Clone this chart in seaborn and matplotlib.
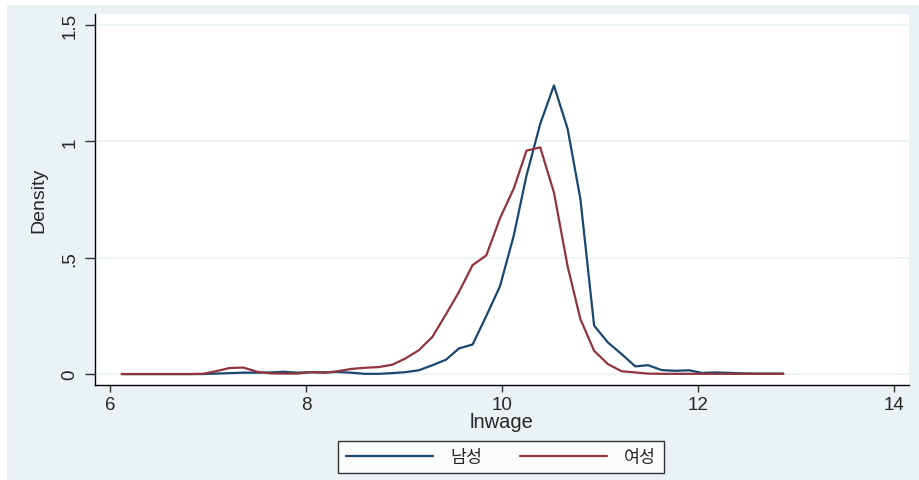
import pandas as pd
import seaborn as sns
import matplotlib.pyplot as plt
from matplotlib.patches import Rectangle

# kdensity evaluation grid (50 points) and density estimates
lnwage = [6.12, 6.26, 6.40, 6.53, 6.67, 6.81, 6.95, 7.08, 7.22, 7.36,
          7.50, 7.64, 7.77, 7.91, 8.05, 8.19, 8.32, 8.46, 8.60, 8.74,
          8.88, 9.01, 9.15, 9.29, 9.43, 9.56, 9.70, 9.84, 9.98, 10.12,
          10.25, 10.39, 10.53, 10.67, 10.80, 10.94, 11.08, 11.22, 11.36, 11.49,
          11.63, 11.77, 11.91, 12.04, 12.18, 12.32, 12.46, 12.60, 12.73, 12.87]

male = [0, 0, 0, 0, 0, 0, 0.0, 0.002, 0.004, 0.006,
        0.006, 0.007, 0.010, 0.006, 0.008, 0.007, 0.009, 0.006, 0.001, 0.001,
        0.004, 0.008, 0.016, 0.038, 0.062, 0.110, 0.127, 0.250, 0.378, 0.595,
        0.853, 1.075, 1.240, 1.053, 0.752, 0.208, 0.136, 0.086, 0.033, 0.038,
        0.017, 0.014, 0.016, 0.005, 0.007, 0.005, 0.003, 0.002, 0.002, 0.002]

female = [0, 0, 0, 0, 0, 0, 0.001, 0.012, 0.026, 0.028,
          0.010, 0.003, 0.002, 0.002, 0.008, 0.006, 0.012, 0.022, 0.027, 0.030,
          0.040, 0.066, 0.102, 0.160, 0.258, 0.352, 0.468, 0.510, 0.670, 0.797,
          0.960, 0.974, 0.780, 0.462, 0.236, 0.100, 0.043, 0.012, 0.007, 0.002,
          0.001, 0.001, 0.001, 0.001, 0.001, 0.001, 0.001, 0.001, 0.001, 0.001]

groups = ["남성", "여성"]
colors = ["#1A476F", "#90353B"]

df = pd.concat([
    pd.DataFrame({"lnwage": lnwage, "Density": male, "sex": groups[0]}),
    pd.DataFrame({"lnwage": lnwage, "Density": female, "sex": groups[1]}),
])

sns.set_style("white")
plt.rcParams["font.family"] = ["Liberation Sans", "Noto Sans CJK KR", "DejaVu Sans"]

BG = "#EAF2F3"
fig = plt.figure(figsize=(9.19, 4.81), dpi=100, facecolor="white")
fig.patches.append(Rectangle((7 / 919, 0), 1, 1 - 6 / 481, transform=fig.transFigure,
                             facecolor=BG, edgecolor="none", zorder=-10))
ax = fig.add_axes([95 / 919, 95 / 481, 814 / 919, 371 / 481])
ax.set_facecolor("white")

sns.lineplot(data=df, x="lnwage", y="Density", hue="sex", palette=colors,
             ax=ax, linewidth=1.6, legend=False)

ax.set_xlim(5.847, 14.153)
ax.set_ylim(-0.047, 1.547)
ax.set_xticks([6, 8, 10, 12, 14])
ax.set_yticks([0, 0.5, 1, 1.5])
ax.set_yticklabels(["0", ".5", "1", "1.5"], rotation=90, va="center")
ax.yaxis.grid(True, color=BG, linewidth=1.2)
ax.set_axisbelow(True)

for s in ["top", "right"]:
    ax.spines[s].set_visible(False)
for s in ["left", "bottom"]:
    ax.spines[s].set_color("black")
    ax.spines[s].set_linewidth(1.0)

ax.tick_params(axis="y", direction="out", length=7, width=1, color="#333333",
               labelsize=13.5, pad=5, left=True)
ax.tick_params(axis="x", direction="out", length=5, width=1, color="#333333",
               labelsize=13.5, pad=3, bottom=True)
ax.set_xlabel("lnwage", fontsize=14.5, labelpad=-1)
ax.set_ylabel("Density", fontsize=14, labelpad=10)

handles = [plt.Line2D([], [], color=c, linewidth=1.6) for c in colors]
leg = fig.legend(handles, groups, loc="center", bbox_to_anchor=(0.5452, 0.0478),
                 ncol=2, frameon=True, fancybox=False, fontsize=12.5,
                 handlelength=5.0, handletextpad=1.0, columnspacing=2.2,
                 borderpad=0.45)
leg.get_frame().set_edgecolor("black")
leg.get_frame().set_linewidth(1.0)
leg.get_frame().set_facecolor("white")

fig.savefig("out.png", dpi=100, facecolor=fig.get_facecolor())
